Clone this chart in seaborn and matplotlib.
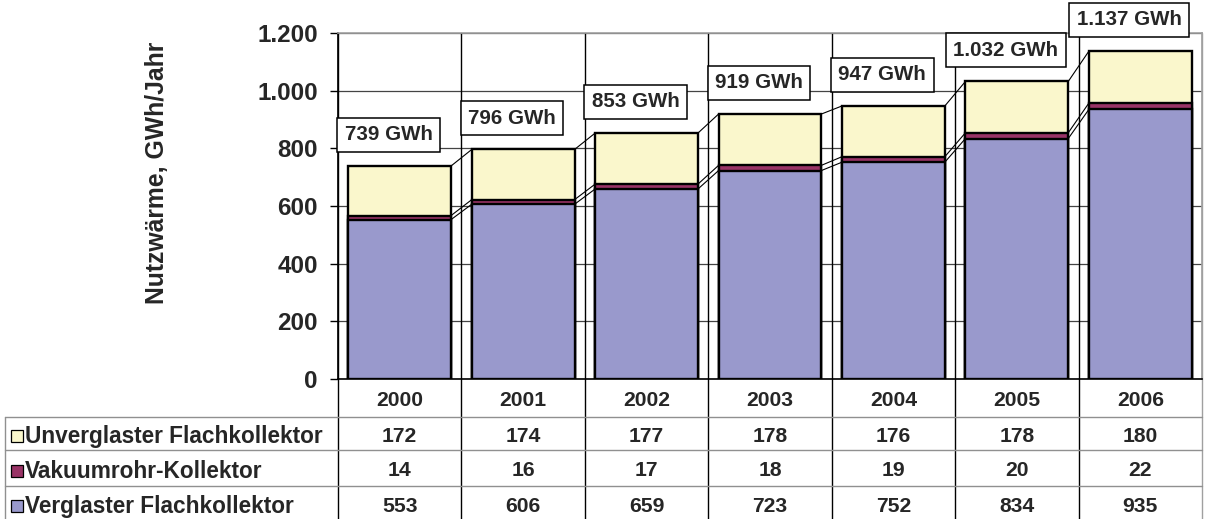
import matplotlib
matplotlib.use("Agg")
import matplotlib.pyplot as plt
import matplotlib.transforms as mtransforms
from matplotlib.patches import Rectangle
import seaborn as sns
import pandas as pd
import numpy as np

# ---------------- data ----------------
years = ["2000", "2001", "2002", "2003", "2004", "2005", "2006"]
unverglast = [172, 174, 177, 178, 176, 178, 180]
vakuum = [14, 16, 17, 18, 19, 20, 22]
verglast = [553, 606, 659, 723, 752, 834, 935]
total_labels = ["739 GWh", "796 GWh", "853 GWh", "919 GWh", "947 GWh",
                "1.032 GWh", "1.137 GWh"]
series_names = ["Unverglaster Flachkollektor", "Vakuumrohr-Kollektor",
                "Verglaster Flachkollektor"]
ytick_values = [0, 200, 400, 600, 800, 1000, 1200]
ytick_labels = ["0", "200", "400", "600", "800", "1.000", "1.200"]
ylabel = "Nutzwärme, GWh/Jahr"

# ---------------- style ----------------
sns.set_style("white")
plt.rcParams["font.family"] = ["Liberation Sans", "DejaVu Sans"]
plt.rcParams["font.weight"] = "bold"

col_unv = "#FAF7CC"
col_vak = "#993366"
col_ver = "#9999CC"
series_colors = [col_unv, col_vak, col_ver]

W, H, DPI = 1205, 519, 100
fig = plt.figure(figsize=(W / DPI, H / DPI), dpi=DPI)
fx = lambda px: px / W
fy = lambda py: 1 - py / H

ax_left, ax_right, ax_top, ax_bottom = 338, 1202, 33, 379
ax = fig.add_axes([fx(ax_left), fy(ax_bottom), fx(ax_right - ax_left),
                   (ax_bottom - ax_top) / H])

df = pd.DataFrame({"year": years, "unv": unverglast, "vak": vakuum, "ver": verglast})
df["lvl_ver"] = df["ver"]
df["lvl_vak"] = df["ver"] + df["vak"]
df["lvl_tot"] = df["ver"] + df["vak"] + df["unv"]

bw = 0.833
for col, c in [("lvl_tot", col_unv), ("lvl_vak", col_vak), ("lvl_ver", col_ver)]:
    sns.barplot(data=df, x="year", y=col, color=c, saturation=1, width=bw,
                edgecolor="black", linewidth=1.7, errorbar=None, ax=ax, zorder=3)

ax.set_xlim(-0.5, 6.5)
ax.set_ylim(0, 1200)
ax.set_yticks(ytick_values)
ax.set_yticklabels(ytick_labels)
ax.set_xticks([])
ax.set_xlabel("")
ax.set_ylabel("")
ax.tick_params(axis="y", which="both", left=True, direction="out", length=6,
               width=1, pad=8.6, labelsize=17.5, color="black")
for lab in ax.get_yticklabels():
    lab.set_fontweight("bold")
ax.yaxis.grid(True, color="#444444", lw=0.9, zorder=0)
ax.set_axisbelow(True)
for s in ["left", "bottom"]:
    ax.spines[s].set_color("black")
    ax.spines[s].set_linewidth(1.2)
for s in ["top", "right"]:
    ax.spines[s].set_color("#A0A0A0")
    ax.spines[s].set_linewidth(1.2)

# series lines between bars
x = np.arange(len(years))
for col in ["lvl_ver", "lvl_vak", "lvl_tot"]:
    v = df[col].values
    for i in range(len(years) - 1):
        ax.plot([x[i] + bw / 2, x[i + 1] - bw / 2], [v[i], v[i + 1]],
                color="black", lw=0.8, zorder=2)

# total labels
for i, lab in enumerate(total_labels):
    ax.annotate(lab, xy=(x[i] - 0.09, df["lvl_tot"].values[i]),
                xytext=(0, 22.5), textcoords="offset points", ha="center",
                va="center", fontsize=14.8, fontweight="bold",
                bbox=dict(boxstyle="square,pad=0.36", fc="white", ec="black", lw=1.1),
                annotation_clip=False, zorder=6)

# vertical category boundaries (plot + table)
blend = mtransforms.blended_transform_factory(ax.transData, fig.transFigure)
for i in range(len(years) + 1):
    xb = i - 0.5
    c = "#A0A0A0" if i == len(years) else "black"
    ax.plot([xb, xb], [0, fy(ax_top)], transform=blend, color=c, lw=1.0,
            clip_on=False, zorder=1)

# y label
fig.text(fx(157), fy(173), ylabel, rotation=90, ha="center", va="center",
         fontsize=17.8, fontweight="bold")

# data table
header_y = 400
row_ys = [436, 471, 506]
line_ys = [417, 450, 486]
for ly in line_ys:
    fig.add_artist(plt.Line2D([fx(5), fx(ax_right)], [fy(ly), fy(ly)],
                              color="#909090", lw=1.0))
fig.add_artist(plt.Line2D([fx(5), fx(5)], [fy(line_ys[0]), 0],
                          color="#909090", lw=1.0))

for i, yr in enumerate(years):
    ax.text(x[i], fy(header_y), yr, transform=blend, ha="center", va="center",
            fontsize=15.2, fontweight="bold")

row_values = [unverglast, vakuum, verglast]
for r, (name, vals, c) in enumerate(zip(series_names, row_values, series_colors)):
    yc = row_ys[r]
    fig.add_artist(Rectangle((fx(11), fy(yc + 6)), 12 / W, 12 / H,
                             transform=fig.transFigure, fc=c, ec="black", lw=0.9))
    fig.text(fx(25), fy(yc), name, ha="left", va="center", fontsize=16.3,
             fontweight="bold")
    for i, v in enumerate(vals):
        ax.text(x[i], fy(yc), str(v), transform=blend, ha="center", va="center",
                fontsize=15.2, fontweight="bold")

fig.savefig("out.png", dpi=DPI, facecolor="white")
